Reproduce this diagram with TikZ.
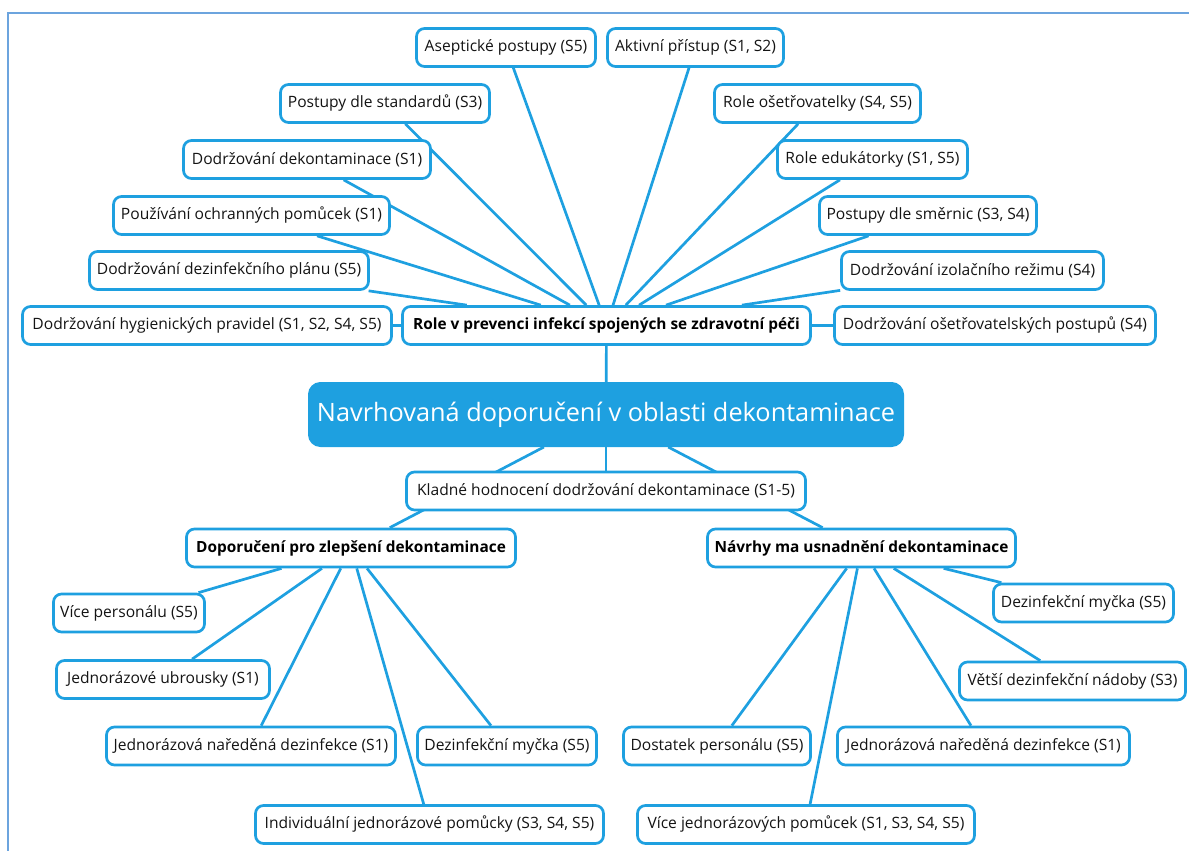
\documentclass[tikz,border=0pt]{standalone}
\usepackage{fontspec}
\setmainfont{Open Sans}
\usetikzlibrary{backgrounds}
\definecolor{mapblue}{RGB}{30,160,224}
\definecolor{frameblue}{RGB}{108,164,222}

\begin{document}
\begin{tikzpicture}[x=1pt,y=-1pt,
  topic/.style={draw=mapblue, line width=2.7pt, rounded corners=8pt, fill=white,
    minimum height=38pt, inner sep=0pt, text=black!92,
    font=\fontsize{15.6}{18}\selectfont},
  subtopic/.style={topic, text=black, font=\bfseries\fontsize{15.4}{18}\selectfont},
  central/.style={draw=mapblue, fill=mapblue, line width=1pt, rounded corners=12pt,
    minimum height=64pt, inner sep=0pt, text=white,
    font=\fontsize{25.3}{30}\selectfont},
  link/.style={draw=mapblue, line width=2.7pt},
]
\useasboundingbox (0,0) rectangle (1189,851);

% outer frame
\draw[frameblue, line width=2pt] (8,851) -- (8,13) -- (1189,13);

% central topic
\node[central, minimum width=595pt] (main) at (606,414.5) {Navrhovaná doporučení v oblasti dekontaminace};

% upper branch
\node[subtopic, minimum width=408pt] (role) at (606.5,325.5) {Role v prevenci infekcí spojených se zdravotní péči};
\node[topic, minimum width=179pt] (asept) at (506,47.5) {Aseptické postupy (S5)};
\node[topic, minimum width=176pt] (aktiv) at (695.5,47.5) {Aktivní přístup (S1, S2)};
\node[topic, minimum width=209pt] (stand) at (385,103.5) {Postupy dle standardů (S3)};
\node[topic, minimum width=206pt] (oset) at (817.5,103.5) {Role ošetřovatelky (S4, S5)};
\node[topic, minimum width=247pt] (dekon) at (307,159.5) {Dodržování dekontaminace (S1)};
\node[topic, minimum width=190pt] (eduk) at (872.5,159.5) {Role edukátorky (S1, S5)};
\node[topic, minimum width=276pt] (ochr) at (251.5,215.5) {Používání ochranných pomůcek (S1)};
\node[topic, minimum width=217pt] (smer) at (928,215.5) {Postupy dle směrnic (S3, S4)};
\node[topic, minimum width=279pt] (plan) at (229,270.5) {Dodržování dezinfekčního plánu (S5)};
\node[topic, minimum width=262pt] (izol) at (972.5,270.5) {Dodržování izolačního režimu (S4)};
\node[topic, minimum width=369pt] (hyg) at (207,325.5) {Dodržování hygienických pravidel (S1, S2, S4, S5)};
\node[topic, minimum width=321pt] (postup) at (995,325.5) {Dodržování ošetřovatelských postupů (S4)};

% lower branches
\node[topic, minimum width=399pt] (klad) at (606,491) {Kladné hodnocení dodržování dekontaminace (S1-5)};
\node[subtopic, minimum width=329pt] (dopo) at (351,548) {Doporučení pro zlepšení dekontaminace};
\node[subtopic, minimum width=308pt] (navr) at (861.5,548) {Návrhy ma usnadnění dekontaminace};

\node[topic, minimum width=151pt] (vice) at (129,613) {Více personálu (S5)};
\node[topic, minimum width=213pt] (ubr) at (163,679.5) {Jednorázové ubrousky (S1)};
\node[topic, minimum width=289pt] (naredL) at (251,746) {Jednorázová naředěná dezinfekce (S1)};
\node[topic, minimum width=179pt] (mycL) at (507,746) {Dezinfekční myčka (S5)};
\node[topic, minimum width=348pt] (indiv) at (429.5,824.5) {Individuální jednorázové pomůcky (S3, S4, S5)};

\node[topic, minimum width=180pt] (mycR) at (1083.5,603) {Dezinfekční myčka (S5)};
\node[topic, minimum width=226pt] (vetsi) at (1072.5,681) {Větší dezinfekční nádoby (S3)};
\node[topic, minimum width=187pt] (dost) at (717,746) {Dostatek personálu (S5)};
\node[topic, minimum width=292pt] (naredR) at (983.5,746) {Jednorázová naředěná dezinfekce (S1)};
\node[topic, minimum width=337pt] (vicej) at (806,824.5) {Více jednorázových pomůcek (S1, S3, S4, S5)};

% connectors, centre to centre, behind the topics
\begin{scope}[on background layer]
  \draw[link] (main) -- (role);
  \foreach \c in {asept,aktiv,stand,oset,dekon,eduk,ochr,smer,plan,izol,hyg,postup}
    \draw[link] (role) -- (\c);
  \draw[link] (main) -- (klad);
  \draw[link] (main) -- (dopo);
  \draw[link] (main) -- (navr);
  \foreach \c in {vice,ubr,naredL,mycL,indiv}
    \draw[link] (dopo) -- (\c);
  \foreach \c in {mycR,vetsi,dost,naredR,vicej}
    \draw[link] (navr) -- (\c);
\end{scope}
\end{tikzpicture}
\end{document}
